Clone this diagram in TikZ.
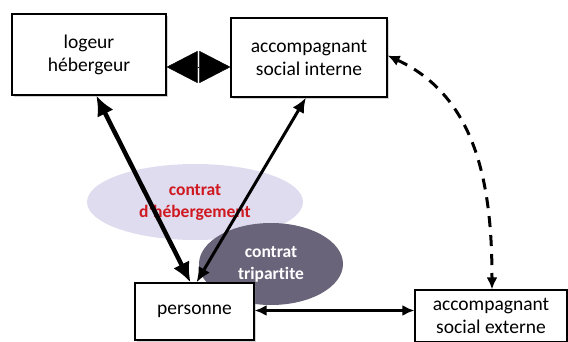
\documentclass[tikz,border=0pt]{standalone}
\usepackage{fontspec}
\setmainfont{Carlito}[Ligatures={TeX,NoCommon}]
\usetikzlibrary{arrows.meta,shapes.geometric,shadows}
\definecolor{lavande}{RGB}{222,220,238}
\definecolor{ardoise}{RGB}{106,100,122}
\definecolor{rougecontrat}{RGB}{208,24,32}

\begin{document}
\begin{tikzpicture}[x=1pt,y=-1pt,
		boite/.style={draw,line width=1.2pt,fill=white,align=center,inner sep=0pt,
			font=\fontsize{19.5}{23}\selectfont,
			drop shadow={shadow xshift=2pt,shadow yshift=-2pt,opacity=0.35}},
		bulle/.style={ellipse,inner sep=0pt,align=center,font=\bfseries\fontsize{17.5}{22}\selectfont},
		papillon/.style={line width=0.4pt,-{Triangle[length=31pt,width=32pt]}},
		lien/.style={{Latex[length=12pt,width=11pt]}-{Latex[length=12pt,width=11pt]}}]
	\useasboundingbox (0,0) rectangle (568,342);
	\node[bulle,fill=lavande,text=rougecontrat,minimum width=216pt,minimum height=76pt] (heb) at (195,202) {contrat\\d'hébergement};
	\node[bulle,fill=ardoise,text=white,minimum width=144pt,minimum height=82pt] (tri) at (271,264) {contrat\\tripartite};
	\node[boite,minimum width=154pt,minimum height=81pt] (logeur) at (89,54.5) {logeur\\hébergeur};
	\node[boite,minimum width=156pt,minimum height=79pt] (interne) at (309,57.5) {accompagnant\\social interne};
	\node[boite,minimum width=119pt,minimum height=57pt] (personne) at (194.5,311.5) {personne};
	\node[boite,minimum width=152pt,minimum height=52pt] (externe) at (491,316) {accompagnant\\social externe};
	\coordinate (milieu) at (199,67);
	\draw[papillon] ([xshift=-1.2pt]milieu) -- (milieu -| logeur.east);
	\draw[papillon] ([xshift=1.2pt]milieu) -- (milieu -| interne.west);
	\draw[lien,line width=4.5pt,{Latex[length=20pt,width=18pt]}-{Latex[length=20pt,width=18pt]}] ([xshift=-4pt]personne.north) -- (logeur.-80);
	\draw[lien,line width=3pt,{Latex[length=15pt,width=13pt]}-{Latex[length=15pt,width=13pt]}] ([xshift=2pt]personne.north) -- ([xshift=-3pt]interne.south);
	\draw[lien,line width=3pt] ([yshift=1pt]personne.east) -- ([yshift=1pt]personne.east -| externe.west);
	\draw[lien,line width=3pt,dash pattern=on 11pt off 8pt] ([yshift=2pt]interne.east) to[out=-25,in=90] ([xshift=1pt]externe.north);
\end{tikzpicture}
\end{document}
